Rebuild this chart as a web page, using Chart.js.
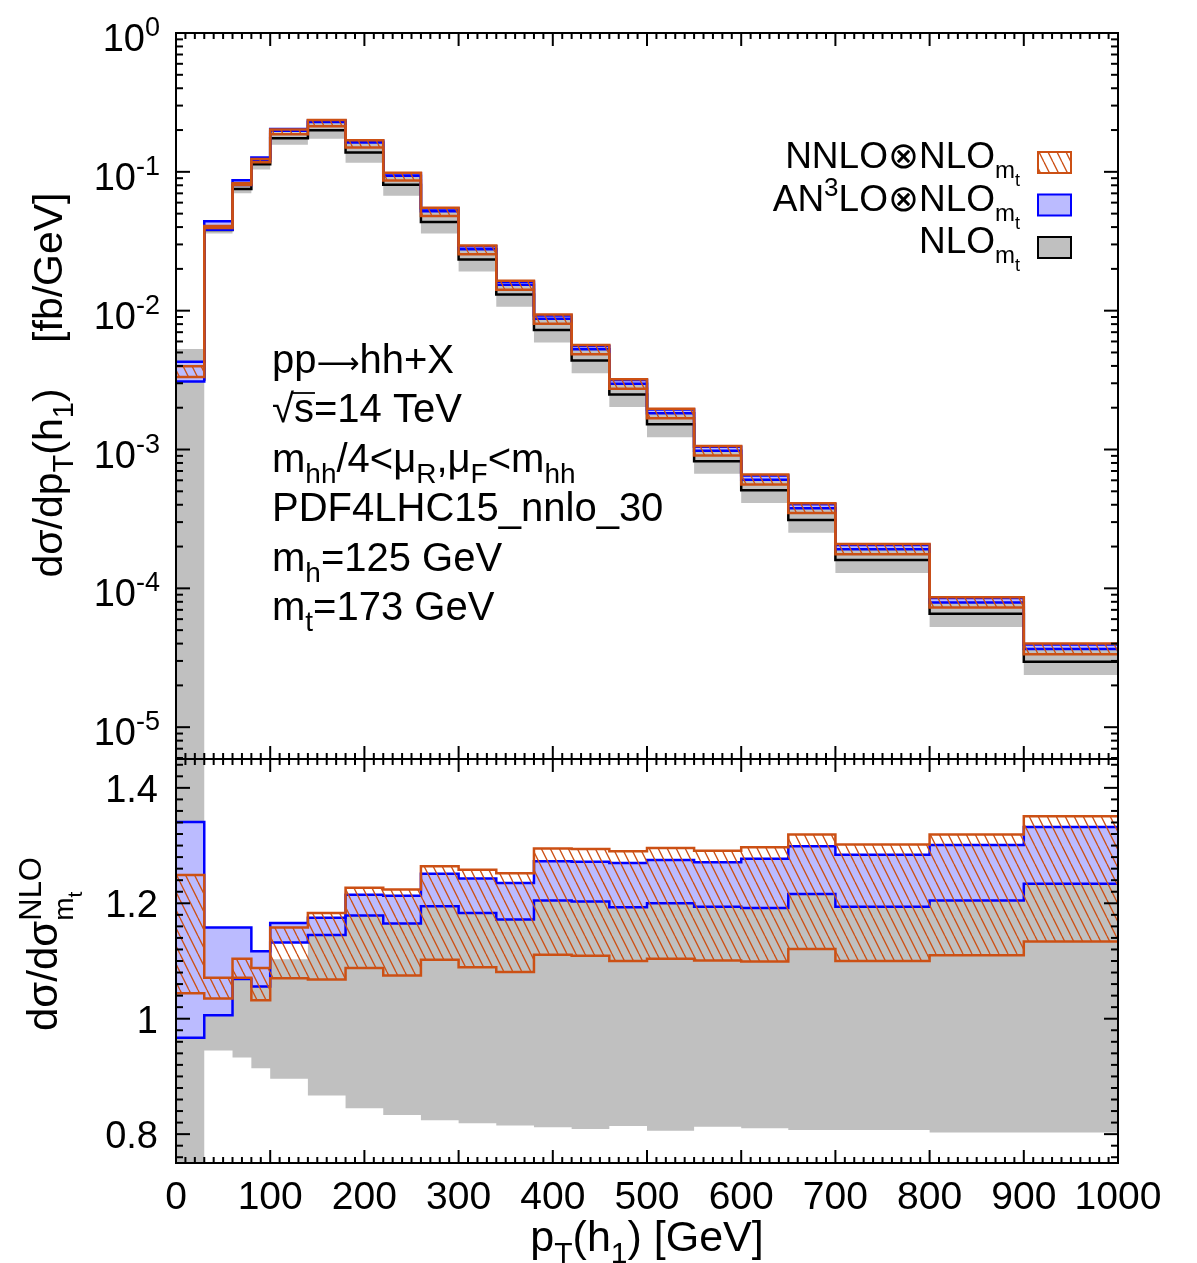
<!DOCTYPE html>
<html>
<head>
<meta charset="utf-8">
<script src="https://cdn.jsdelivr.net/npm/chart.js@4.4.1/dist/chart.umd.min.js"></script>
<style>
  body { margin: 0; background: #fff; }
  #wrap { position: relative; width: 1197px; height: 1263px; }
  canvas { position: absolute; left: 0; top: 0; }
</style>
</head>
<body>
<div id="wrap">
  <canvas id="topChart" width="1197" height="1263"></canvas>
  <canvas id="ratioChart" width="1197" height="1263"></canvas>
</div>
<script>
// bin edges in GeV
const binEdges = [0, 30, 60, 80, 100, 140, 180, 220, 260, 300, 340, 380, 420, 460, 500, 550, 600, 650, 700, 800, 900, 1000];

// NLO_mt central value per bin [fb/GeV]
const nloCentral = [3.19e-3, 0.0381, 0.0751, 0.1136, 0.1746, 0.1995, 0.1377, 0.0806, 0.0436, 0.0234, 0.0131,
  7.26e-3, 4.38e-3, 2.49e-3, 1.52e-3, 8.22e-4, 5.09e-4, 3.11e-4, 1.60e-4, 6.55e-5, 2.96e-5];

// band edges, as ratio to NLO_mt central
const nloLow = [0.001, 0.945, 0.933, 0.914, 0.896, 0.867, 0.845, 0.833, 0.824, 0.819, 0.815,
  0.812, 0.809, 0.814, 0.806, 0.813, 0.810, 0.807, 0.807, 0.803, 0.803];
const nloHigh = [1.66, 1.10, 1.10, 1.10, 1.103, 1.15, 1.185, 1.17, 1.20, 1.19, 1.18,
  1.21, 1.21, 1.20, 1.205, 1.20, 1.20, 1.22, 1.20, 1.21, 1.24];
const an3loLow = [0.967, 1.006, 1.069, 1.056, 1.132, 1.145, 1.179, 1.165, 1.195, 1.183, 1.172,
  1.205, 1.203, 1.193, 1.200, 1.194, 1.192, 1.216, 1.194, 1.205, 1.234];
const an3loHigh = [1.341, 1.158, 1.158, 1.117, 1.166, 1.175, 1.215, 1.213, 1.251, 1.243, 1.235,
  1.273, 1.272, 1.270, 1.275, 1.271, 1.277, 1.299, 1.284, 1.301, 1.332];
const nnloLow = [1.044, 1.035, 1.071, 1.032, 1.070, 1.068, 1.088, 1.075, 1.102, 1.089, 1.081,
  1.111, 1.109, 1.100, 1.104, 1.101, 1.099, 1.121, 1.100, 1.110, 1.134];
const nnloHigh = [1.249, 1.071, 1.104, 1.088, 1.158, 1.183, 1.227, 1.224, 1.264, 1.258, 1.252,
  1.295, 1.294, 1.290, 1.296, 1.291, 1.297, 1.319, 1.302, 1.319, 1.351];

const xTickLabels = ['0', '100', '200', '300', '400', '500', '600', '700', '800', '900', '1000'];
const logTickExp = [0, -1, -2, -3, -4, -5];
const ratioTickLabels = ['0.8', '1', '1.2', '1.4'];

const FONT = '"Liberation Sans", Arial, Helvetica, sans-serif';
const GRAY = '#c0c0c0';
const BLUE = '#0000ff';
const LIGHTBLUE = '#bbbbff';
const ORANGE = '#cc5014';

function hatch(color) {
  const c = document.createElement('canvas');
  c.width = 9; c.height = 18;
  const g = c.getContext('2d');
  g.strokeStyle = color;
  g.lineWidth = 1.3;
  for (const dx of [-9, 0, 9]) {
    g.beginPath(); g.moveTo(dx, 0); g.lineTo(dx + 9, 18); g.stroke();
  }
  return g.createPattern(c, 'repeat');
}
const hatchPattern = hatch(ORANGE);

function steps(vals) {
  const pts = vals.map((v, i) => ({x: binEdges[i], y: v}));
  pts.push({x: binEdges[binEdges.length - 1], y: vals[vals.length - 1]});
  return pts;
}
const absolute = r => r.map((v, i) => v * nloCentral[i]);

function bandSets(scale) {
  return [
    {data: steps(scale(nloLow)), borderWidth: 0, order: 10},
    {data: steps(scale(nloHigh)), borderWidth: 0, backgroundColor: GRAY, fill: '-1', order: 9},
    {data: steps(scale(an3loLow)), borderColor: BLUE, borderWidth: 2.5, order: 5.5},
    {data: steps(scale(an3loHigh)), borderColor: BLUE, borderWidth: 2.5, backgroundColor: LIGHTBLUE, fill: '-1', order: 6},
    {data: steps(scale(nnloLow)), borderColor: ORANGE, borderWidth: 2.5, order: 3.5},
    {data: steps(scale(nnloHigh)), borderColor: ORANGE, borderWidth: 2.5, backgroundColor: hatchPattern, fill: '-1', order: 4},
  ];
}

// rich text: parts {t, s, dy, under, f}
function drawRich(ctx, x, y, parts, align, rot) {
  ctx.save();
  ctx.translate(x, y);
  if (rot) ctx.rotate(rot);
  let cx = 0, maxX = 0, stackStart = 0;
  const placed = [];
  for (const p of parts) {
    ctx.font = (p.s || 37) + 'px ' + (p.f || FONT);
    const w = ctx.measureText(p.t).width;
    if (p.under) cx = stackStart; else stackStart = cx;
    placed.push({p, x: cx});
    cx += w;
    maxX = Math.max(maxX, cx);
  }
  const x0 = align === 'right' ? -maxX : align === 'center' ? -maxX / 2 : 0;
  ctx.fillStyle = '#000';
  ctx.textAlign = 'left';
  ctx.textBaseline = 'alphabetic';
  for (const q of placed) {
    ctx.font = (q.p.s || 37) + 'px ' + (q.p.f || FONT);
    ctx.fillText(q.p.t, x0 + q.x, q.p.dy || 0);
  }
  ctx.restore();
}

function seg(ctx, x1, y1, x2, y2) {
  ctx.beginPath(); ctx.moveTo(x1, y1); ctx.lineTo(x2, y2); ctx.stroke();
}

// plain text / subscript helpers at a given size
const tx = (t, s) => ({t, s});
const sb = (t, s) => ({t, s: Math.round(s * 0.7), dy: Math.round(s * 0.27)});
const mt = [{t: 'm', s: 24, dy: 10}, {t: 't', s: 18, dy: 18}];

const framePlugin = {
  id: 'frame',
  afterDraw(chart, args, opts) {
    const {ctx, chartArea: a, scales} = chart;
    ctx.save();
    ctx.strokeStyle = '#000';
    ctx.lineWidth = 2;
    for (let v = 0; v <= 1000; v += 10) {
      const px = scales.x.getPixelForValue(v);
      const len = v % 100 === 0 ? 13 : 6;
      seg(ctx, px, a.top, px, a.top + len);
      seg(ctx, px, a.bottom, px, a.bottom - len);
    }
    for (const t of opts.yTicks) {
      const py = scales.y.getPixelForValue(t.v);
      if (py < a.top - 0.5 || py > a.bottom + 0.5) continue;
      const len = t.major ? 14 : 7;
      seg(ctx, a.left, py, a.left + len, py);
      seg(ctx, a.right, py, a.right - len, py);
    }
    ctx.strokeRect(a.left, a.top, a.right - a.left, a.bottom - a.top);
    opts.labels(ctx, chart);
    ctx.restore();
  }
};

// ---------- top panel ----------
const logTicks = [];
for (let e = -6; e <= 0; e++) {
  for (let m = 1; m <= 9; m++) logTicks.push({v: m * Math.pow(10, e), major: m === 1});
}

new Chart(document.getElementById('topChart'), {
  type: 'line',
  data: {
    datasets: [
      ...bandSets(absolute),
      {data: steps(nloCentral), borderColor: '#000', borderWidth: 2.5, order: 8},
    ]
  },
  options: {
    responsive: false,
    animation: false,
    devicePixelRatio: 1,
    layout: {padding: {left: 176, right: 79, top: 33, bottom: 504}},
    elements: {point: {radius: 0}, line: {stepped: 'before', tension: 0}},
    scales: {
      x: {type: 'linear', min: 0, max: 1000, display: false},
      y: {type: 'logarithmic', min: 5.9e-6, max: 1, display: false},
    },
    plugins: {
      legend: {display: false},
      tooltip: {enabled: false},
      frame: {
        yTicks: logTicks,
        labels(ctx, chart) {
          const y = chart.scales.y;
          logTickExp.forEach(e => {
            drawRich(ctx, 160, y.getPixelForValue(Math.pow(10, e)) + 18,
              [{t: '10', s: 38}, {t: String(e), s: 27, dy: -15}], 'right');
          });
          // y title
          const ts = 41;
          drawRich(ctx, 62, 385, [tx('d\u03c3/dp', ts), sb('T', ts), tx('(h', ts), sb('1', ts), tx(')    [fb/GeV]', ts)],
            'center', -Math.PI / 2);
          // annotations
          const lx = 272, as = 40;
          drawRich(ctx, lx, 373, [tx('pp', as), {t: '\u27f6', f: '"DejaVu Sans", sans-serif', s: 30}, tx('hh+X', as)]);
          drawRich(ctx, lx, 422, [tx('\u221as=14 TeV', as)]);
          ctx.font = as + 'px ' + FONT;
          const wr = ctx.measureText('\u221a').width, ws = ctx.measureText('s').width;
          ctx.lineWidth = 1.8;
          seg(ctx, lx + wr - 1, 393, lx + wr + ws + 1, 393);
          drawRich(ctx, lx, 472, [tx('m', as), sb('hh', as), tx('/4<\u03bc', as), sb('R', as), tx(',\u03bc', as),
            sb('F', as), tx('<m', as), sb('hh', as)]);
          drawRich(ctx, lx, 521, [tx('PDF4LHC15_nnlo_30', as)]);
          drawRich(ctx, lx, 571, [tx('m', as), sb('h', as), tx('=125 GeV', as)]);
          drawRich(ctx, lx, 620, [tx('m', as), sb('t', as), tx('=173 GeV', as)]);
          // legend
          const rows = [
            {parts: [{t: 'NNLO\u2297NLO'}, ...mt], fill: hatchPattern, stroke: ORANGE},
            {parts: [{t: 'AN'}, {t: '3', s: 26, dy: -15}, {t: 'LO\u2297NLO'}, ...mt], fill: LIGHTBLUE, stroke: BLUE},
            {parts: [{t: 'NLO'}, ...mt], fill: GRAY, stroke: '#000'},
          ];
          rows.forEach((r, i) => {
            const by = 152 + i * 42.5;
            drawRich(ctx, 1020, by + 16, r.parts, 'right');
            ctx.fillStyle = r.fill;
            ctx.fillRect(1038, by, 33, 21);
            ctx.strokeStyle = r.stroke;
            ctx.lineWidth = 2;
            ctx.strokeRect(1038, by, 33, 21);
          });
        }
      }
    }
  },
  plugins: [framePlugin]
});

// ---------- ratio panel ----------
const ratioTicks = [];
for (let k = 38; k <= 72; k++) ratioTicks.push({v: k / 50, major: k % 10 === 0});

new Chart(document.getElementById('ratioChart'), {
  type: 'line',
  data: {datasets: bandSets(r => r)},
  options: {
    responsive: false,
    animation: false,
    devicePixelRatio: 1,
    layout: {padding: {left: 176, right: 79, top: 759, bottom: 100}},
    elements: {point: {radius: 0}, line: {stepped: 'before', tension: 0}},
    scales: {
      x: {type: 'linear', min: 0, max: 1000, display: false},
      y: {type: 'linear', min: 0.75, max: 1.45, display: false},
    },
    plugins: {
      legend: {display: false},
      tooltip: {enabled: false},
      frame: {
        yTicks: ratioTicks,
        labels(ctx, chart) {
          const {x, y} = chart.scales;
          ratioTickLabels.forEach(l => {
            drawRich(ctx, 158, y.getPixelForValue(parseFloat(l)) + 14, [tx(l, 38)], 'right');
          });
          xTickLabels.forEach(l => {
            drawRich(ctx, x.getPixelForValue(parseFloat(l)), 1209, [tx(l, 39)], 'center');
          });
          const xs = 43;
          drawRich(ctx, 647, 1251, [tx('p', xs), sb('T', xs), tx('(h', xs), sb('1', xs), tx(') [GeV]', xs)], 'center');
          drawRich(ctx, 57, 944, [tx('d\u03c3/d\u03c3', 42), {t: 'NLO', s: 31, dy: -16},
            {t: 'm', s: 28, dy: 16, under: true}, {t: 't', s: 21, dy: 25}], 'center', -Math.PI / 2);
        }
      }
    }
  },
  plugins: [framePlugin]
});
</script>
</body>
</html>
